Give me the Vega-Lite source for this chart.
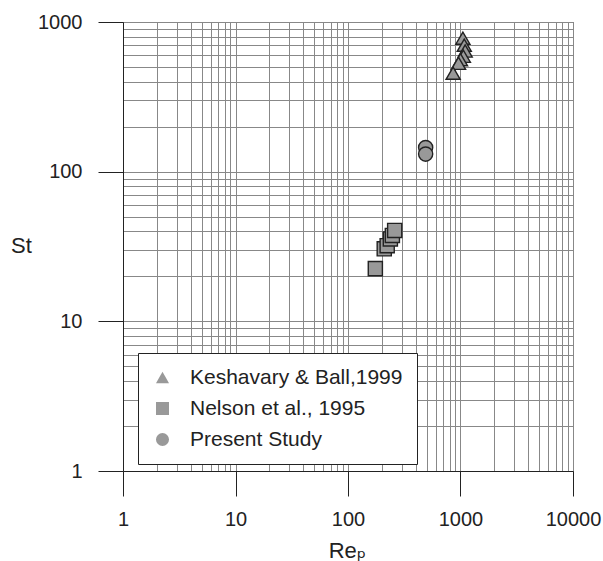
{
  "$schema": "https://vega.github.io/schema/vega-lite/v6.json",
  "width": 450,
  "height": 449,
  "autosize": {"type": "none"},
  "padding": {"left": 123, "top": 22, "right": 30, "bottom": 90},
  "background": "white",
  "config": {
    "view": {"stroke": "#555", "strokeWidth": 1},
    "font": "Liberation Sans"
  },
  "data": {
    "values": [
      {"series": "Keshavary & Ball,1999", "Rep": 1050, "St": 780},
      {"series": "Keshavary & Ball,1999", "Rep": 1080, "St": 700},
      {"series": "Keshavary & Ball,1999", "Rep": 1100, "St": 640},
      {"series": "Keshavary & Ball,1999", "Rep": 1060, "St": 590},
      {"series": "Keshavary & Ball,1999", "Rep": 1000, "St": 560},
      {"series": "Keshavary & Ball,1999", "Rep": 960, "St": 530},
      {"series": "Keshavary & Ball,1999", "Rep": 860, "St": 455},
      {"series": "Nelson et al., 1995", "Rep": 175, "St": 22.5},
      {"series": "Nelson et al., 1995", "Rep": 210, "St": 30.5},
      {"series": "Nelson et al., 1995", "Rep": 223, "St": 32},
      {"series": "Nelson et al., 1995", "Rep": 238, "St": 35.5},
      {"series": "Nelson et al., 1995", "Rep": 248, "St": 37.5},
      {"series": "Nelson et al., 1995", "Rep": 260, "St": 40.5},
      {"series": "Present Study", "Rep": 490, "St": 145},
      {"series": "Present Study", "Rep": 490, "St": 131}
    ]
  },
  "mark": {"type": "point", "filled": false, "fill": "#999", "stroke": "#222", "strokeWidth": 1.4, "opacity": 1, "fillOpacity": 1, "strokeOpacity": 1, "size": 200},
  "encoding": {
    "x": {
      "field": "Rep", "type": "quantitative",
      "scale": {"type": "log", "domain": [1, 10000], "nice": false},
      "axis": {
        "title": "Reₚ",
        "titleFont": "Liberation Sans, DejaVu Sans",
        "titleFontSize": 22,
        "titleFontWeight": "normal",
        "titleColor": "#222",
        "titleX": 224,
        "titleY": 86,
        "titleBaseline": "alphabetic",
        "titleAlign": "center",
        "values": [1,2,3,4,5,6,7,8,9,10,20,30,40,50,60,70,80,90,100,200,300,400,500,600,700,800,900,1000,2000,3000,4000,5000,6000,7000,8000,9000,10000],
        "labelExpr": "indexof([1,10,100,1000,10000], datum.value) >= 0 ? format(datum.value, 'd') : ''",
        "labelOverlap": false,
        "labelFontSize": 20,
        "labelColor": "#222",
        "labelPadding": 13,
        "labelFlush": false,
        "tickSize": 25,
        "tickColor": "#222",
        "tickOpacity": {"condition": {"test": "indexof([1,10,100,1000,10000], datum.value) >= 0", "value": 1}, "value": 0},
        "grid": true,
        "gridColor": "#888",
        "gridWidth": 1,
        "gridOpacity": 1,
        "domainColor": "#222"
      }
    },
    "y": {
      "field": "St", "type": "quantitative",
      "scale": {"type": "log", "domain": [1, 1000], "nice": false},
      "axis": {
        "title": "St",
        "titleFontSize": 22,
        "titleFontWeight": "normal",
        "titleColor": "#222",
        "titleAngle": 0,
        "titleX": -102,
        "titleY": 223,
        "titleAlign": "center",
        "titleBaseline": "middle",
        "values": [1,2,3,4,5,6,7,8,9,10,20,30,40,50,60,70,80,90,100,200,300,400,500,600,700,800,900,1000],
        "labelExpr": "indexof([1,10,100,1000], datum.value) >= 0 ? format(datum.value, 'd') : ''",
        "labelOverlap": false,
        "labelFontSize": 20,
        "labelColor": "#222",
        "labelPadding": 16,
        "labelFlush": false,
        "tickSize": 25,
        "tickColor": "#222",
        "tickOpacity": {"condition": {"test": "indexof([1,10,100,1000], datum.value) >= 0", "value": 1}, "value": 0},
        "grid": true,
        "gridColor": "#888",
        "gridWidth": 1,
        "gridOpacity": 1,
        "domainColor": "#222"
      }
    },
    "shape": {
      "field": "series", "type": "nominal",
      "sort": ["Keshavary & Ball,1999", "Nelson et al., 1995", "Present Study"],
      "scale": {"domain": ["Keshavary & Ball,1999", "Nelson et al., 1995", "Present Study"], "range": ["triangle-up", "square", "circle"]},
      "legend": {
        "title": null,
        "orient": "none",
        "legendX": 15,
        "legendY": 331,
        "padding": 14,
        "fillColor": "white",
        "strokeColor": "#222",
        "labelFontSize": 21,
        "labelColor": "#222",
        "labelOffset": 17,
        "labelLimit": 400,
        "rowPadding": 9,
        "symbolSize": 170,
        "symbolFillColor": "#999",
        "symbolStrokeColor": "#222",
        "symbolStrokeWidth": 1.2,
        "symbolOpacity": 1
      }
    }
  }
}
